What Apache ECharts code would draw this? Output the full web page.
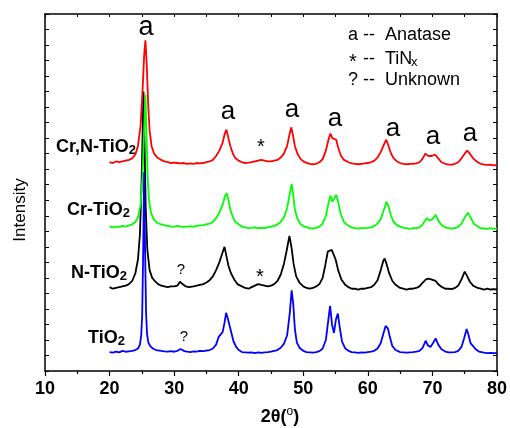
<!DOCTYPE html>
<html>
<head>
<meta charset="utf-8">
<script src="https://cdn.jsdelivr.net/npm/echarts@6/dist/echarts.min.js"></script>
<style>
html,body{margin:0;padding:0;background:#fff;}
#chart{width:510px;height:428px;}
</style>
</head>
<body>
<div id="chart"></div>
<script>
// x-axis ticks
const xTicks = [10, 20, 30, 40, 50, 60, 70, 80];

// Sample names
const sampleNames = ['Cr,N-TiO2', 'Cr-TiO2', 'N-TiO2', 'TiO2'];

// [2theta, intensity (offset, arbitrary units)]
const tio2 = [[20,1.22],[20.5,1.18],[21,1.25],[21.5,1.2],[22,1.3],[22.5,1.24],[23,1.27],[23.5,1.3],[24,1.35],[24.4,1.45],[24.7,1.7],[24.9,2.3],[25.05,3.6],[25.2,7.5],[25.35,12.8],[25.5,7.8],[25.65,3.8],[25.8,2.4],[26.0,1.85],[26.3,1.6],[26.7,1.45],[27.2,1.35],[28,1.3],[28.5,1.27],[29,1.25],[29.5,1.28],[30,1.24],[30.5,1.3],[31.0,1.42],[31.3,1.38],[31.6,1.28],[32,1.25],[32.5,1.22],[33,1.27],[33.5,1.25],[34,1.3],[34.5,1.28],[35,1.32],[35.5,1.35],[36,1.45],[36.5,1.7],[36.9,2.2],[37.2,2.3],[37.5,2.5],[37.8,3.1],[38.05,3.75],[38.3,3.4],[38.6,2.9],[38.9,2.4],[39.2,1.9],[39.6,1.55],[40,1.35],[40.5,1.22],[41,1.2],[41.5,1.18],[42,1.2],[42.5,1.15],[43,1.2],[43.5,1.17],[44,1.2],[44.5,1.22],[45,1.25],[45.5,1.3],[46,1.35],[46.5,1.5],[47,1.75],[47.5,2.3],[47.9,3.7],[48.2,5.2],[48.45,4.3],[48.7,2.7],[49,1.85],[49.4,1.5],[50,1.3],[50.5,1.22],[51,1.2],[51.5,1.18],[52,1.22],[52.5,1.28],[53,1.45],[53.5,2.0],[53.85,3.2],[54.15,4.2],[54.45,3.0],[54.75,2.45],[55.05,3.3],[55.35,3.7],[55.65,2.8],[56,1.9],[56.5,1.45],[57,1.3],[57.5,1.22],[58,1.2],[58.5,1.17],[59,1.2],[59.5,1.18],[60,1.22],[60.5,1.25],[61,1.3],[61.5,1.45],[62,1.8],[62.4,2.4],[62.75,2.9],[63.1,2.75],[63.4,2.2],[63.8,1.6],[64.3,1.35],[65,1.22],[65.5,1.2],[66,1.18],[66.5,1.2],[67,1.22],[67.5,1.25],[68,1.3],[68.5,1.5],[68.95,1.95],[69.3,1.65],[69.7,1.55],[70.1,1.8],[70.5,2.1],[70.9,1.7],[71.4,1.4],[72,1.25],[72.5,1.2],[73,1.2],[73.5,1.22],[74,1.3],[74.5,1.55],[74.9,2.1],[75.3,2.7],[75.6,2.3],[75.9,1.8],[76.3,1.6],[76.7,1.4],[77.2,1.25],[78,1.18],[78.5,1.15],[79,1.17],[79.5,1.15],[80,1.15]];

const nTio2 = [[20,5.4],[20.5,5.3],[21,5.35],[21.5,5.4],[22,5.45],[22.5,5.5],[23,5.6],[23.5,5.8],[24,6.3],[24.4,7.2],[24.7,8.8],[24.95,12],[25.15,16],[25.25,18],[25.4,15],[25.6,10.5],[25.85,7.8],[26.2,6.5],[26.6,6.0],[27,5.8],[27.5,5.6],[28,5.5],[28.5,5.45],[29,5.4],[29.5,5.45],[30,5.45],[30.5,5.5],[30.9,5.75],[31.3,5.6],[31.8,5.45],[32.3,5.4],[33,5.45],[33.5,5.5],[34,5.55],[34.5,5.6],[35,5.7],[35.5,5.85],[36,6.1],[36.5,6.5],[37,7.0],[37.4,7.5],[37.8,8.0],[38.1,7.4],[38.4,6.8],[38.8,6.3],[39.3,5.9],[39.8,5.6],[40.5,5.45],[41,5.35],[41.5,5.3],[42,5.4],[42.5,5.5],[43,5.6],[43.5,5.55],[44,5.5],[44.5,5.45],[45,5.5],[45.5,5.6],[46,5.8],[46.5,6.2],[47,6.9],[47.4,7.7],[47.85,8.7],[48.2,7.9],[48.5,6.9],[48.9,6.1],[49.4,5.7],[50,5.45],[50.5,5.35],[51,5.3],[51.5,5.35],[52,5.45],[52.5,5.6],[53,6.0],[53.4,6.8],[53.8,7.7],[54.1,7.6],[54.4,7.8],[54.7,7.7],[55.0,7.2],[55.4,6.5],[55.9,5.9],[56.5,5.55],[57,5.4],[57.5,5.3],[58,5.3],[58.5,5.25],[59,5.3],[59.5,5.3],[60,5.35],[60.5,5.4],[61,5.55],[61.5,5.85],[62,6.5],[62.4,7.1],[62.6,7.25],[62.9,6.9],[63.3,6.3],[63.8,5.8],[64.3,5.55],[65,5.35],[65.5,5.3],[66,5.25],[66.5,5.3],[67,5.3],[67.5,5.35],[68,5.45],[68.5,5.7],[69,5.9],[69.4,5.95],[69.8,5.9],[70.1,6.0],[70.5,5.8],[71,5.55],[71.5,5.4],[72,5.3],[72.5,5.3],[73,5.28],[73.5,5.35],[74,5.5],[74.5,5.9],[75.0,6.4],[75.4,6.1],[75.8,5.75],[76.3,5.5],[77,5.35],[77.5,5.3],[78,5.25],[78.5,5.3],[79,5.25],[79.5,5.28],[80,5.25]];

const crTio2 = [[20,9.3],[20.5,9.25],[21,9.3],[21.5,9.28],[22,9.35],[22.5,9.3],[23,9.38],[23.5,9.45],[24,9.6],[24.4,9.9],[24.8,10.7],[25.1,12.5],[25.35,15.5],[25.55,17.8],[25.7,15.5],[25.9,12.5],[26.1,11],[26.4,10.2],[26.8,9.8],[27.3,9.55],[28,9.45],[28.5,9.4],[29,9.35],[29.5,9.3],[30,9.3],[30.5,9.35],[31,9.3],[31.5,9.28],[32,9.3],[32.5,9.32],[33,9.3],[33.5,9.35],[34,9.38],[34.5,9.4],[35,9.45],[35.5,9.5],[36,9.6],[36.5,9.85],[37,10.2],[37.5,10.7],[37.9,11.3],[38.15,11.45],[38.4,11.0],[38.7,10.4],[39.1,9.9],[39.5,9.6],[40,9.45],[40.5,9.3],[41,9.25],[41.5,9.2],[42,9.22],[42.5,9.25],[43,9.2],[43.5,9.22],[44,9.2],[44.5,9.25],[45,9.3],[45.5,9.35],[46,9.45],[46.5,9.6],[47,9.9],[47.5,10.5],[47.9,11.4],[48.2,12.05],[48.45,11.3],[48.7,10.4],[49.1,9.8],[49.6,9.45],[50.2,9.3],[51,9.2],[51.5,9.18],[52,9.22],[52.5,9.3],[53,9.5],[53.5,10.0],[53.9,10.8],[54.2,11.3],[54.5,10.9],[54.8,11.0],[55.1,11.35],[55.4,10.9],[55.8,10.1],[56.3,9.6],[57,9.35],[57.5,9.25],[58,9.2],[58.5,9.18],[59,9.2],[59.5,9.2],[60,9.22],[60.5,9.25],[61,9.35],[61.5,9.5],[62,9.8],[62.5,10.4],[62.9,10.9],[63.2,10.6],[63.6,10.0],[64,9.6],[64.5,9.4],[65,9.3],[65.5,9.22],[66,9.2],[66.5,9.15],[67,9.2],[67.5,9.2],[68,9.25],[68.5,9.45],[69.1,9.85],[69.5,9.7],[69.9,9.75],[70.5,10.05],[70.9,9.7],[71.4,9.4],[72,9.25],[72.5,9.2],[73,9.18],[73.5,9.2],[74,9.3],[74.5,9.5],[75,9.9],[75.5,10.2],[75.9,9.9],[76.4,9.5],[77,9.3],[77.5,9.2],[78,9.18],[78.5,9.15],[79,9.2],[79.5,9.15],[80,9.18]];

const crnTio2 = [[20,13.45],[20.5,13.4],[21,13.5],[21.5,13.45],[22,13.5],[22.5,13.55],[23,13.6],[23.5,13.7],[24,13.95],[24.4,14.5],[24.8,15.8],[25.1,18],[25.35,20.3],[25.55,21.3],[25.75,19.8],[26,17],[26.2,15.5],[26.5,14.5],[26.9,14.0],[27.4,13.75],[28,13.6],[28.5,13.5],[29,13.45],[29.5,13.4],[30,13.42],[30.5,13.4],[31,13.38],[31.5,13.4],[32,13.35],[32.5,13.38],[33,13.35],[33.5,13.4],[34,13.38],[34.5,13.4],[35,13.45],[35.5,13.5],[36,13.6],[36.5,13.85],[37,14.2],[37.5,14.7],[37.85,15.3],[38.1,15.55],[38.35,15.1],[38.7,14.5],[39.1,14.0],[39.5,13.7],[40,13.55],[40.5,13.45],[41,13.4],[41.5,13.42],[42,13.45],[42.5,13.5],[43,13.55],[43.5,13.6],[44,13.55],[44.5,13.5],[45,13.5],[45.5,13.55],[46,13.6],[46.5,13.75],[47,14.0],[47.5,14.5],[47.9,15.3],[48.15,15.7],[48.4,15.2],[48.7,14.5],[49.1,14.0],[49.6,13.65],[50.2,13.45],[51,13.35],[51.5,13.32],[52,13.35],[52.5,13.45],[53,13.65],[53.5,14.2],[53.9,14.9],[54.2,15.3],[54.5,15.0],[54.8,15.1],[55.1,14.9],[55.4,14.4],[55.8,13.9],[56.3,13.6],[57,13.45],[57.5,13.38],[58,13.35],[58.5,13.32],[59,13.35],[59.5,13.38],[60,13.4],[60.5,13.45],[61,13.55],[61.5,13.75],[62,14.1],[62.5,14.6],[62.85,14.9],[63.2,14.5],[63.6,14.0],[64,13.7],[64.5,13.5],[65,13.4],[65.5,13.35],[66,13.32],[66.5,13.35],[67,13.35],[67.5,13.38],[68,13.45],[68.5,13.7],[68.9,14.0],[69.4,13.85],[69.9,13.85],[70.4,13.95],[70.9,13.7],[71.4,13.45],[72,13.35],[72.5,13.3],[73,13.3],[73.5,13.35],[74,13.45],[74.5,13.7],[75,14.0],[75.4,14.2],[75.8,14.0],[76.3,13.7],[77,13.45],[77.5,13.35],[78,13.3],[78.5,13.28],[79,13.3],[79.5,13.25],[80,13.28]];

const chart = echarts.init(document.getElementById('chart'), null, {renderer: 'canvas'});

const FONT = 'Liberation Sans, Arial, sans-serif';
const subRich = {
  b: {fontFamily: FONT, fontWeight: 'bold', fontSize: 18, color: '#000'},
  s: {fontFamily: FONT, fontWeight: 'bold', fontSize: 13, color: '#000', padding: [7, 0, 0, 0]}
};
function sampleText(name) {
  // name ends with "2" -> subscript
  return '{b|' + name.slice(0, -1) + '}{s|2}';
}
function txt(x, y, text, size, extra) {
  return {
    type: 'text', x: x, y: y, silent: true,
    style: Object.assign({text: text, fill: '#000', font: size + 'px ' + FONT, align: 'center', verticalAlign: 'middle'}, extra || {})
  };
}

const graphics = [
  // peak labels
  txt(146, 28, 'a', 27), txt(228, 112, 'a', 26), txt(292, 110, 'a', 26),
  txt(335, 119, 'a', 26), txt(393, 129, 'a', 26), txt(433, 137, 'a', 26), txt(470, 134, 'a', 26),
  txt(261, 147, '*', 20), txt(260, 277, '*', 20),
  txt(181, 270, '?', 15), txt(184, 337, '?', 15),
  // legend
  txt(348, 35, 'a --  Anatase', 18, {align: 'left'}),
  txt(349, 62, '*', 20, {align: 'left'}),
  txt(363, 59, '--  TiN', 18, {align: 'left'}),
  txt(411, 62, 'x', 13, {align: 'left'}),
  txt(348, 80, '? --  Unknown', 18, {align: 'left'}),
  // sample names
  {type: 'text', x: 136, y: 147, silent: true, style: {text: sampleText(sampleNames[0]), rich: subRich, align: 'right', verticalAlign: 'middle'}},
  {type: 'text', x: 130, y: 210, silent: true, style: {text: sampleText(sampleNames[1]), rich: subRich, align: 'right', verticalAlign: 'middle'}},
  {type: 'text', x: 127, y: 273, silent: true, style: {text: sampleText(sampleNames[2]), rich: subRich, align: 'right', verticalAlign: 'middle'}},
  {type: 'text', x: 125, y: 338, silent: true, style: {text: sampleText(sampleNames[3]), rich: subRich, align: 'right', verticalAlign: 'middle'}},
  // axis titles
  {type: 'text', x: 280, y: 417, silent: true, style: {text: '{b|2θ(}{o|o}{b|)}', align: 'center', verticalAlign: 'middle',
     rich: {b: {fontFamily: FONT, fontWeight: 'bold', fontSize: 18, color: '#000'},
            o: {fontFamily: FONT, fontSize: 12, color: '#000', padding: [0, 0, 10, 0]}}}},
  {type: 'text', x: 20, y: 210, rotation: Math.PI / 2, silent: true, style: {text: 'Intensity', fill: '#000', font: '17px ' + FONT, align: 'center', verticalAlign: 'middle'}}
];

const mk = (name, data, color) => ({
  name: name, type: 'line', data: data, showSymbol: false, symbol: 'none',
  lineStyle: {color: color, width: 1.8}, itemStyle: {color: color}, animation: false, z: 3
});

const option = {
  animation: false,
  backgroundColor: '#fff',
  grid: {left: 45, right: 11, top: 14, bottom: 57, containLabel: false},
  xAxis: [
    {type: 'value', position: 'bottom', min: xTicks[0], max: xTicks[xTicks.length - 1], interval: 10,
     axisLine: {onZero: false, lineStyle: {color: '#000', width: 1.5}},
     axisTick: {inside: false, length: 5, lineStyle: {color: '#000', width: 1.2}},
     minorTick: {show: true, splitNumber: 2, length: 3, lineStyle: {color: '#000', width: 1.2}},
     axisLabel: {color: '#000', fontFamily: FONT, fontWeight: 'bold', fontSize: 18, margin: 9},
     splitLine: {show: false}},
    {type: 'value', position: 'top', min: 10, max: 80, interval: 5,
     axisLine: {onZero: false, lineStyle: {color: '#000', width: 1.5}},
     axisTick: {inside: true, length: 3, lineStyle: {color: '#000', width: 1}},
     axisLabel: {show: false}, splitLine: {show: false}}
  ],
  yAxis: [
    {type: 'value', position: 'left', min: 0, max: 23, interval: 1,
     axisLine: {show: true, onZero: false, lineStyle: {color: '#000', width: 1.5}},
     axisTick: {show: true, inside: true, length: 4, lineStyle: {color: '#000', width: 1}},
     axisLabel: {show: false}, splitLine: {show: false}},
    {type: 'value', position: 'right', min: 0, max: 23, interval: 1,
     axisLine: {show: true, onZero: false, lineStyle: {color: '#000', width: 1.5}},
     axisTick: {show: true, inside: true, length: 4, lineStyle: {color: '#000', width: 1}},
     axisLabel: {show: false}, splitLine: {show: false}}
  ],
  series: [
    mk(sampleNames[2], nTio2, '#000000'),
    mk(sampleNames[1], crTio2, '#00ff00'),
    mk(sampleNames[3], tio2, '#0000ff'),
    mk(sampleNames[0], crnTio2, '#ff0000')
  ],
  graphic: graphics
};
chart.setOption(option);
</script>
</body>
</html>
